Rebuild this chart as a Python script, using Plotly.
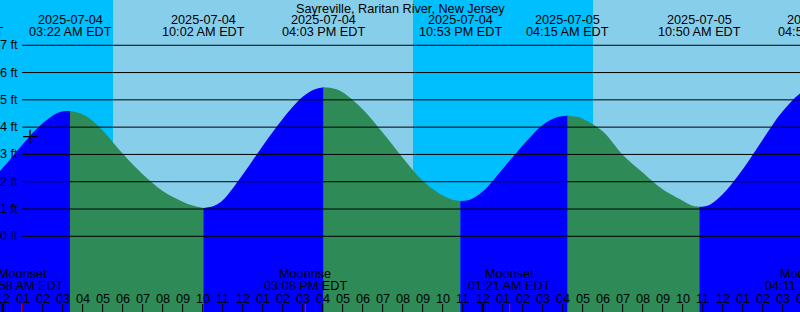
import plotly.graph_objects as go
import pandas as pd

# ---------------- data ----------------
title = "Sayreville, Raritan River, New Jersey"

# water level readings (EDT, feet)
tide_times = [
    "2025-07-03 23:00", "2025-07-04 00:00", "2025-07-04 01:00", "2025-07-04 02:00", "2025-07-04 02:50",
    "2025-07-04 03:50", "2025-07-04 04:20", "2025-07-04 05:00", "2025-07-04 06:00", "2025-07-04 07:00",
    "2025-07-04 08:00", "2025-07-04 09:00", "2025-07-04 09:30", "2025-07-04 10:35", "2025-07-04 11:00",
    "2025-07-04 12:00", "2025-07-04 13:00", "2025-07-04 14:00", "2025-07-04 15:00", "2025-07-04 15:35",
    "2025-07-04 16:35", "2025-07-04 17:00", "2025-07-04 18:00", "2025-07-04 19:00", "2025-07-04 20:00",
    "2025-07-04 21:00", "2025-07-04 22:00", "2025-07-04 22:25", "2025-07-04 23:25", "2025-07-05 00:00",
    "2025-07-05 01:00", "2025-07-05 02:00", "2025-07-05 03:00", "2025-07-05 03:45", "2025-07-05 04:45",
    "2025-07-05 05:00", "2025-07-05 06:00", "2025-07-05 07:00", "2025-07-05 08:00", "2025-07-05 09:00",
    "2025-07-05 10:00", "2025-07-05 10:25", "2025-07-05 11:20", "2025-07-05 12:00", "2025-07-05 13:00",
    "2025-07-05 14:00", "2025-07-05 15:00", "2025-07-05 16:00",
]
tide_levels = [
    1.82, 2.50, 3.37, 4.14, 4.55,
    4.52, 4.33, 3.88, 3.03, 2.27,
    1.66, 1.27, 1.13, 1.12, 1.32,
    2.26, 3.31, 4.30, 5.11, 5.38,
    5.41, 5.28, 4.66, 3.80, 2.88,
    2.04, 1.50, 1.36, 1.36, 1.64,
    2.47, 3.33, 4.08, 4.37, 4.37,
    4.31, 3.85, 2.99, 2.34, 1.72,
    1.30, 1.14, 1.15, 1.54, 2.45,
    3.54, 4.58, 5.30,
]

# high / low tides
extreme_times = ["2025-07-03 21:57", "2025-07-04 03:22", "2025-07-04 10:02", "2025-07-04 16:03",
                 "2025-07-04 22:53", "2025-07-05 04:15", "2025-07-05 10:50", "2025-07-05 16:52"]
extreme_levels = [1.55, 4.59, 1.04, 5.46, 1.29, 4.42, 1.08, 5.50]
extreme_dates = ["2025-07-03", "2025-07-04", "2025-07-04", "2025-07-04",
                 "2025-07-04", "2025-07-05", "2025-07-05", "2025-07-05"]
extreme_clock = ["09:57 PM EDT", "03:22 AM EDT", "10:02 AM EDT", "04:03 PM EDT",
                 "10:53 PM EDT", "04:15 AM EDT", "10:50 AM EDT", "04:52 PM EDT"]

# sun
sunrise_times = ["2025-07-04 05:31", "2025-07-05 05:31"]
sunset_times = ["2025-07-03 20:31", "2025-07-04 20:31"]

# moon
moon_times = ["2025-07-04 00:58", "2025-07-04 15:08", "2025-07-05 01:21", "2025-07-05 16:11"]
moon_kinds = ["Moonset", "Moonrise", "Moonset", "Moonrise"]
moon_clock = ["12:58 AM EDT", "03:08 PM EDT", "01:21 AM EDT", "04:11 PM EDT"]

# current time marker
now_time = "2025-07-04 01:22"
now_level = 3.65

feet_levels = [0, 1, 2, 3, 4, 5, 6, 7]
feet_labels = ["0 ft", "1 ft", "2 ft", "3 ft", "4 ft", "5 ft", "6 ft", "7 ft"]

# ---------------- styling / layout constants ----------------
W, H = 800, 312
X_START = pd.Timestamp("2025-07-03 23:52")
X_END = pd.Timestamp("2025-07-05 15:52")
Y_RANGE = [-2.774, 8.659]
FLOOR = -4.0
NIGHT = "#00BFFF"
DAY = "#87CEEB"
RISE = "#0000FF"
FALL = "#2E8B57"
FONT = dict(family="Liberation Sans, Arial, sans-serif", size=12.7, color="black")
PX_PER_SEC = W / (X_END - X_START).total_seconds()


def ts(t):
    return pd.Timestamp(t).strftime("%Y-%m-%d %H:%M:%S")


def place(t):
    """Anchor inside the axis range; shift text for events just off the edges."""
    t = pd.Timestamp(t)
    lo = X_START + pd.Timedelta(seconds=1)
    hi = X_END - pd.Timedelta(seconds=1)
    a = min(max(t, lo), hi)
    return ts(a), (t - a).total_seconds() * PX_PER_SEC


def ypaper(px):
    return 1 - px / H


fig = go.Figure()

# ---------------- tide fill segments ----------------
pts = sorted([(pd.Timestamp(t), v) for t, v in zip(tide_times, tide_levels)] +
             [(pd.Timestamp(t), v) for t, v in zip(extreme_times, extreme_levels)])
ext_ts = [pd.Timestamp(t) for t in extreme_times]
bounds = ext_ts + [pts[-1][0]]
for i in range(len(bounds) - 1):
    a, b = bounds[i], bounds[i + 1]
    seg = [(t, v) for t, v in pts if a <= t <= b]
    if len(seg) < 2:
        continue
    rising = seg[-1][1] > seg[0][1]
    color = RISE if rising else FALL
    xs = [ts(t) for t, _ in seg]
    ys = [v for _, v in seg]
    fig.add_trace(go.Scatter(x=[xs[0], xs[-1]], y=[FLOOR, FLOOR], mode="lines",
                             line=dict(width=0), hoverinfo="skip", showlegend=False))
    fig.add_trace(go.Scatter(x=xs, y=ys, mode="lines", line=dict(width=0, shape="spline", smoothing=1.0),
                             fill="tonexty", fillcolor=color, hoverinfo="skip", showlegend=False))

# current-time marker
fig.add_trace(go.Scatter(x=[ts(now_time)], y=[now_level], mode="markers",
                         marker=dict(symbol="cross-thin", size=10, line=dict(width=1.3, color="black")),
                         hoverinfo="skip", showlegend=False))

shapes = []
# night shading
ss = [pd.Timestamp(t) for t in sunset_times]
sr = [pd.Timestamp(t) for t in sunrise_times]
for s, r in zip(ss, sr):
    shapes.append(dict(type="rect", layer="below", xref="x", yref="paper",
                       x0=ts(max(s, X_START - pd.Timedelta(hours=1))), x1=ts(r), y0=0, y1=1,
                       fillcolor=NIGHT, line=dict(width=0)))
# level lines
for f in feet_levels:
    shapes.append(dict(type="line", layer="above", xref="paper", yref="y",
                       x0=22 / W, x1=1, y0=f, y1=f, line=dict(color="black", width=1)))

annotations = []
# level labels
for f, lab in zip(feet_levels, feet_labels):
    annotations.append(dict(xref="paper", yref="y", x=20 / W, y=f, xanchor="right", yanchor="middle",
                            text=lab, showarrow=False, font=FONT))

# title
annotations.append(dict(xref="paper", yref="paper", x=0.5, y=ypaper(8.5), text=title, showarrow=False,
                        xanchor="center", yanchor="middle", font=FONT))
# extreme labels
for t, d, c in zip(extreme_times, extreme_dates, extreme_clock):
    x, sh = place(t)
    annotations.append(dict(xref="x", yref="paper", x=x, xshift=sh, y=ypaper(20.3), text=d,
                            showarrow=False, xanchor="center", yanchor="middle", font=FONT))
    annotations.append(dict(xref="x", yref="paper", x=x, xshift=sh, y=ypaper(32.3), text=c,
                            showarrow=False, xanchor="center", yanchor="middle", font=FONT))

# hour ticks and labels
hour = pd.Timestamp("2025-07-04 00:00")
while hour <= X_END + pd.Timedelta(hours=1):
    if hour >= X_START - pd.Timedelta(hours=1):
        x, sh = place(hour)
        annotations.append(dict(xref="x", yref="paper", x=x, xshift=sh, y=ypaper(298.5),
                                text=hour.strftime("%I"), showarrow=False, xanchor="center",
                                yanchor="middle", font=FONT))
        if X_START <= hour <= X_END:
            midnight = hour.hour == 0
            shapes.append(dict(type="line", layer="above", xref="x", yref="paper",
                               x0=ts(hour), x1=ts(hour), y0=0, y1=(8.5 if midnight else 8) / H,
                               line=dict(color="black", width=3 if midnight else 1)))
    hour += pd.Timedelta(hours=1)

# moon events
for t, k, c in zip(moon_times, moon_kinds, moon_clock):
    x, sh = place(t)
    annotations.append(dict(xref="x", yref="paper", x=x, xshift=sh, y=ypaper(274), text=k,
                            showarrow=False, xanchor="center", yanchor="middle", font=FONT))
    annotations.append(dict(xref="x", yref="paper", x=x, xshift=sh, y=ypaper(286), text=c,
                            showarrow=False, xanchor="center", yanchor="middle", font=FONT))
    if X_START <= pd.Timestamp(t) <= X_END:
        shapes.append(dict(type="line", layer="above", xref="x", yref="paper",
                           x0=ts(t), x1=ts(t), y0=0, y1=8 / H, line=dict(color="red", width=1)))

fig.update_layout(
    width=W, height=H, margin=dict(l=0, r=0, t=0, b=0),
    paper_bgcolor=DAY, plot_bgcolor=DAY, showlegend=False,
    xaxis=dict(type="date", range=[ts(X_START), ts(X_END)], visible=False, fixedrange=True),
    yaxis=dict(range=Y_RANGE, visible=False, fixedrange=True),
    shapes=shapes, annotations=annotations,
)

fig.write_html("out.html", config=dict(displayModeBar=False))
